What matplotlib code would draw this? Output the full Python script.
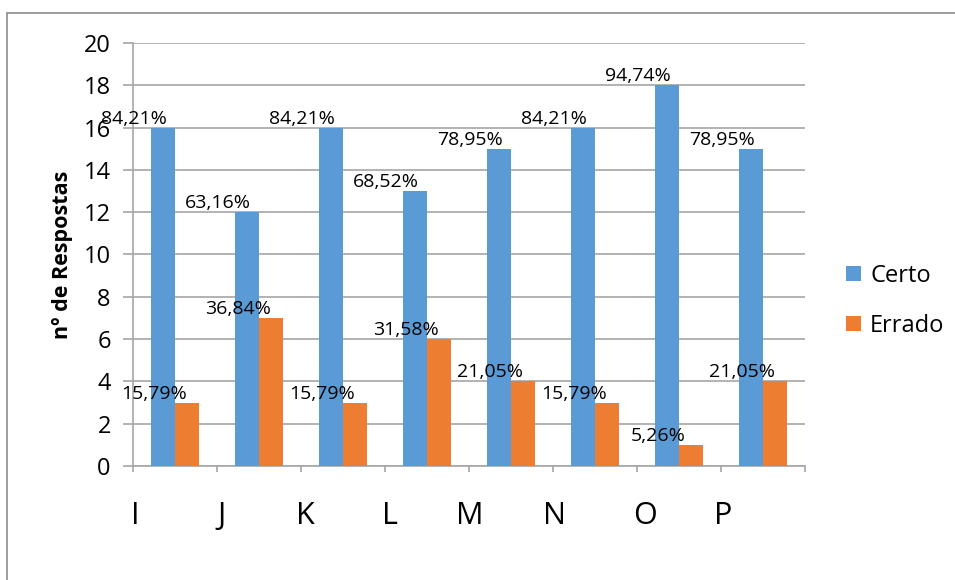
import numpy as np
import matplotlib.pyplot as plt
import matplotlib.transforms as mtransforms
from matplotlib.patches import Rectangle

plt.rcParams['font.family'] = ['Open Sans', 'DejaVu Sans']

categorias = ['I', 'J', 'K', 'L', 'M', 'N', 'O', 'P']
certo = [16, 12, 16, 13, 15, 16, 18, 15]
errado = [3, 7, 3, 6, 4, 3, 1, 4]
certo_pct = ['84,21%', '63,16%', '84,21%', '68,52%', '78,95%', '84,21%', '94,74%', '78,95%']
errado_pct = ['15,79%', '36,84%', '15,79%', '31,58%', '21,05%', '15,79%', '5,26%', '21,05%']

azul = '#5B9BD5'
laranja = '#ED7D31'
cinza = '#A6A6A6'

fig = plt.figure(figsize=(9.55, 5.8), dpi=100)
ax = fig.add_axes([0.1393, 0.1966, 0.7037, 0.7293])

# moldura do gráfico (só aparecem topo e esquerda)
fig.add_artist(Rectangle((0.0073, -0.1), 1.1, 0.8776 + 0.1 + 0.1, transform=fig.transFigure,
                         fill=False, edgecolor='#8C8C8C', linewidth=1.2))

x = np.arange(len(categorias))
w = 0.29
b1 = ax.bar(x - w / 2, certo, w, color=azul, label='Certo', zorder=3)
b2 = ax.bar(x + w / 2, errado, w, color=laranja, label='Errado', zorder=3)

for rect, txt in zip(b1, certo_pct):
    ax.annotate(txt, (rect.get_x() + rect.get_width() / 2, rect.get_height()),
                xytext=(-29, 0), textcoords='offset pixels', ha='center', va='bottom',
                fontsize=14, zorder=4)
for rect, txt in zip(b2, errado_pct):
    ax.annotate(txt, (rect.get_x() + rect.get_width() / 2, rect.get_height()),
                xytext=(-33, 0), textcoords='offset pixels', ha='center', va='bottom',
                fontsize=14, zorder=4)

ax.set_xlim(-0.5, 7.5)
ax.set_ylim(0, 20)
ax.set_yticks(np.arange(0, 21, 2))
ax.yaxis.grid(True, color=cinza, linewidth=1.2, zorder=0)
ax.tick_params(axis='y', labelsize=17, length=7, width=1.2, color=cinza, pad=9)

ax.set_xticks(np.arange(-0.5, 8, 1))
ax.set_xticklabels([])
ax.tick_params(axis='x', length=4, width=1.2, color=cinza)

# rótulos das categorias, um pouco deslocados como no original
desloc = [2, 5, 4, 5, 1, 1, 8, 2]
trans = mtransforms.blended_transform_factory(ax.transData, ax.transAxes)
for i, (cat, dx) in enumerate(zip(categorias, desloc)):
    t = mtransforms.offset_copy(trans, fig=fig, x=dx, y=-50, units='dots')
    ax.text(i - 0.5, 0, cat, transform=t, ha='center', va='center', fontsize=22)

for s in ['top', 'right']:
    ax.spines[s].set_visible(False)
for s in ['left', 'bottom']:
    ax.spines[s].set_color(cinza)
    ax.spines[s].set_linewidth(1.2)

ax.set_ylabel('nº de Respostas', fontsize=15.5, fontweight='bold', labelpad=8)

ax.legend(loc='center left', bbox_to_anchor=(1.03, 0.39), frameon=False, fontsize=17,
          handlelength=0.6, handleheight=0.6, handletextpad=0.4, labelspacing=1.1)

plt.savefig('out.png', dpi=100)
